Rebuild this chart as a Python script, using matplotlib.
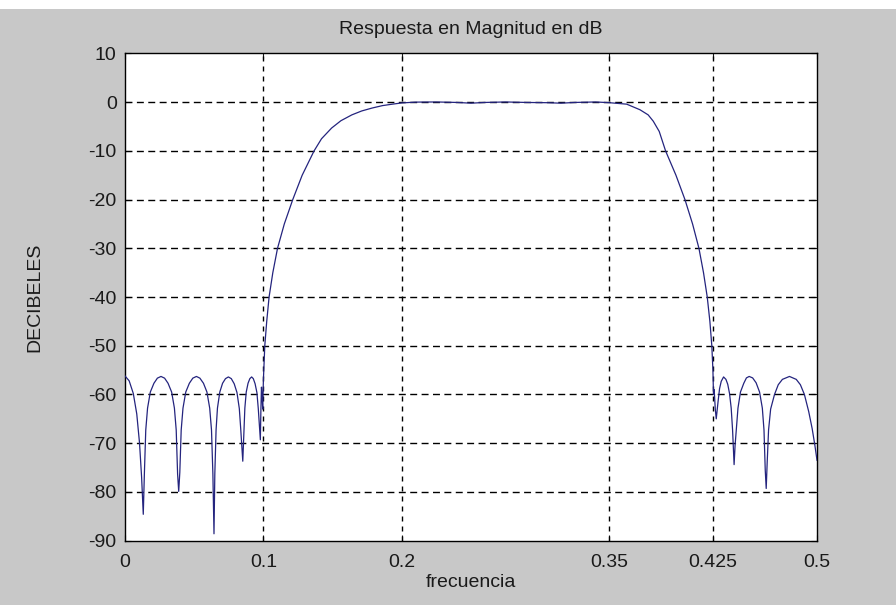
import matplotlib
matplotlib.use("Agg")
import matplotlib.pyplot as plt
from matplotlib.patches import Rectangle

plt.rcParams['font.family'] = ['Liberation Sans', 'DejaVu Sans']
plt.rcParams['axes.unicode_minus'] = False

# magnitude response (normalised frequency, dB)
freq = [
    0.0000, 0.0030, 0.0060, 0.0085, 0.0105, 0.0120, 0.0132,
    0.0140, 0.0150, 0.0163, 0.0183, 0.0209, 0.0234, 0.0260, 0.0286, 0.0311, 0.0337, 0.0357, 0.0370, 0.0380, 0.0388,
    0.0396, 0.0406, 0.0419, 0.0439, 0.0465, 0.0490, 0.0516, 0.0541, 0.0567, 0.0592, 0.0612, 0.0625, 0.0635, 0.0643,
    0.0649, 0.0658, 0.0668, 0.0685, 0.0705, 0.0726, 0.0747, 0.0768, 0.0789, 0.0809, 0.0826, 0.0836, 0.0851,
    0.0860, 0.0866, 0.0876, 0.0889, 0.0902, 0.0915, 0.0927, 0.0940, 0.0953, 0.0963, 0.0970, 0.0978,
    0.0982, 0.0986, 0.0990, 0.0995, 0.1000,
    0.1010, 0.1024, 0.1041, 0.1068, 0.1102, 0.1151, 0.1212, 0.1280, 0.1366, 0.1420, 0.1493, 0.1560, 0.1639,
    0.1710, 0.1785, 0.1860, 0.1932, 0.2000,
    0.2100, 0.2250, 0.2400, 0.2500, 0.2600, 0.2750, 0.2900, 0.3050, 0.3150, 0.3250, 0.3400, 0.3500,
    0.3625, 0.3721, 0.3780, 0.3817, 0.3860, 0.3906, 0.3981, 0.4046, 0.4101, 0.4147, 0.4180, 0.4207, 0.4226,
    0.4240, 0.4248, 0.4252, 0.4257, 0.4265, 0.4272,
    0.4285, 0.4296, 0.4308, 0.4325, 0.4342, 0.4355, 0.4368, 0.4380, 0.4390, 0.4401,
    0.4408, 0.4417, 0.4429, 0.4447, 0.4471, 0.4490, 0.4510, 0.4535, 0.4560, 0.4585, 0.4605, 0.4617, 0.4626, 0.4633,
    0.4640, 0.4650, 0.4665, 0.4693, 0.4720, 0.4750, 0.4801, 0.4850, 0.4880, 0.4909, 0.4940, 0.4965, 0.4985, 0.5000,
]
mag_db = [
    -56.2, -57.2, -59.8, -64.0, -70.0, -77.0, -84.6,
    -76.3, -67.3, -62.8, -59.5, -57.7, -56.65, -56.3, -56.65, -57.7, -59.5, -62.8, -67.3, -76.3, -79.9,
    -76.0, -67.3, -62.8, -59.5, -57.7, -56.65, -56.3, -56.65, -57.7, -59.5, -62.8, -67.3, -76.3, -88.6,
    -76.3, -67.3, -62.8, -59.5, -57.7, -56.75, -56.4, -56.75, -57.8, -59.6, -62.9, -67.0, -73.7,
    -67.3, -62.8, -59.5, -57.7, -56.75, -56.4, -56.75, -57.8, -59.6, -62.9, -66.0, -69.3,
    -63.0, -58.5, -60.0, -63.0, -57.0,
    -50.0, -45.0, -40.0, -35.0, -30.0, -25.0, -20.0, -15.0, -10.0, -7.5, -5.3, -3.8, -2.6,
    -1.8, -1.2, -0.7, -0.4, -0.15,
    0.02, 0.05, -0.05, -0.2, -0.05, 0.05, -0.05, -0.1, -0.2, -0.05, 0.05, -0.1,
    -0.4, -1.55, -2.6, -3.9, -6.0, -10.0, -15.0, -20.0, -25.0, -30.0, -35.0, -40.0, -45.0,
    -50.0, -55.0, -60.0, -59.0, -63.0, -65.0,
    -61.5, -58.8, -57.3, -56.4, -56.9, -57.9, -59.8, -62.8, -67.3, -74.4,
    -70.5, -67.3, -62.8, -59.5, -57.7, -56.6, -56.3, -56.6, -57.6, -59.5, -62.8, -67.3, -75.5, -79.3,
    -74.0, -67.3, -63.0, -60.0, -58.0, -56.9, -56.3, -56.9, -58.0, -60.0, -63.5, -67.0, -70.5, -73.5,
]

x_ticks = [0, 0.1, 0.2, 0.35, 0.425, 0.5]
x_ticklabels = ['0', '0.1', '0.2', '0.35', '0.425', '0.5']
y_ticks = list(range(-90, 11, 10))

fig = plt.figure(figsize=(8.96, 6.05), dpi=100, facecolor='#c8c8c8')
# white strip along the top edge of the screenshot
fig.patches.append(Rectangle((0, 1 - 9 / 605), 1, 9 / 605, transform=fig.transFigure,
                             facecolor='white', edgecolor='none', zorder=0))

ax = fig.add_axes([125 / 896, 64.4 / 605, 692 / 896, 487.1 / 605])
ax.set_facecolor('white')
ax.plot(freq, mag_db, color='#24247e', linewidth=0.9, zorder=3)

ax.set_xlim(0, 0.5)
ax.set_ylim(-90, 10)
ax.set_xticks(x_ticks)
ax.set_xticklabels(x_ticklabels)
ax.set_yticks(y_ticks)

# MATLAB style dashed grid
for t in x_ticks[1:-1]:
    ax.axvline(t, color='black', linewidth=1.0, dashes=(3.6, 3.6), zorder=2)
for t in y_ticks[1:-1]:
    ax.axhline(t, color='black', linewidth=1.0, dashes=(5.0, 3.2), zorder=2)

for s in ax.spines.values():
    s.set_linewidth(1.0)
    s.set_color('black')
ax.tick_params(direction='in', length=4, width=0.8, labelsize=14, colors='#1a1a1a',
               top=True, right=True)
ax.tick_params(axis='x', pad=10)
ax.tick_params(axis='y', pad=6)

ax.set_title('Respuesta en Magnitud en dB', fontsize=14, pad=14, color='#1a1a1a')
ax.set_xlabel('frecuencia', fontsize=14, labelpad=2, color='#1a1a1a')
ax.set_ylabel('DECIBELES', fontsize=14, labelpad=32, color='#1a1a1a')

fig.savefig('out.png', dpi=100, facecolor=fig.get_facecolor())
